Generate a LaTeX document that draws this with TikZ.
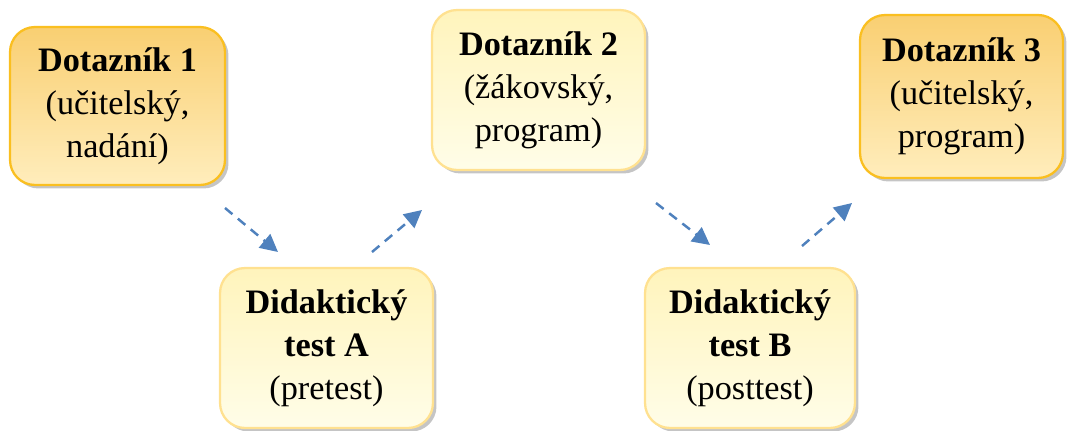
\documentclass[tikz,border=0pt]{standalone}
\usepackage{fontspec}
\setmainfont{Liberation Serif}
\usetikzlibrary{arrows.meta,shadows}

\definecolor{goldline}{HTML}{FABF20}
\definecolor{goldtop}{HTML}{F9CF72}
\definecolor{goldbot}{HTML}{FFEDBC}
\definecolor{paleline}{HTML}{FFE190}
\definecolor{paletop}{HTML}{FFF4BC}
\definecolor{palebot}{HTML}{FFFDE8}
\definecolor{flowblue}{HTML}{4F81BD}

\begin{document}
\begin{tikzpicture}[x=0.02cm,y=-0.02cm,
	box/.style={rounded corners=0.5cm,line width=1.3pt,align=center,
		font=\fontsize{19.5}{24.4}\selectfont,
		drop shadow={shadow xshift=0.07cm,shadow yshift=-0.07cm,fill=black!45,opacity=0.5}},
	quest/.style={box,draw=goldline,top color=goldtop,bottom color=goldbot},
	test/.style={box,draw=paleline,top color=paletop,bottom color=palebot},
	flow/.style={draw=flowblue,line width=1.4pt,dash pattern=on 5.5pt off 4pt,
		-{Triangle[length=10pt,width=10pt]}}]
	\useasboundingbox (0,0) rectangle (1067,430);
	\node[quest,minimum width=4.3cm,minimum height=3.16cm] (d1) at (117.5,106)
		{\textbf{Dotazník 1}\\(učitelský,\\nadání)};
	\node[test,minimum width=4.26cm,minimum height=3.2cm] (d2) at (538.5,90)
		{\textbf{Dotazník 2}\\(žákovský,\\program)};
	\node[quest,minimum width=4.06cm,minimum height=3.26cm] (d3) at (961.5,96.5)
		{\textbf{Dotazník 3}\\(učitelský,\\program)};
	\node[test,minimum width=4.26cm,minimum height=3.2cm] (ta) at (326.5,348)
		{\textbf{Didaktický}\\\textbf{test A}\\(pretest)};
	\node[test,minimum width=4.2cm,minimum height=3.2cm] (tb) at (750,348)
		{\textbf{Didaktický}\\\textbf{test B}\\(posttest)};
	\coordinate (a1s) at (225,208);
	\coordinate (a1e) at (278,252);
	\coordinate (a2s) at (372,252);
	\coordinate (a2e) at (422,210);
	\coordinate (a3s) at (656,203);
	\coordinate (a3e) at (710,245);
	\coordinate (a4s) at (802,246);
	\coordinate (a4e) at (852,203);
	\draw[flow] (a1s) -- (a1e);
	\draw[flow] (a2s) -- (a2e);
	\draw[flow] (a3s) -- (a3e);
	\draw[flow] (a4s) -- (a4e);
\end{tikzpicture}
\end{document}
